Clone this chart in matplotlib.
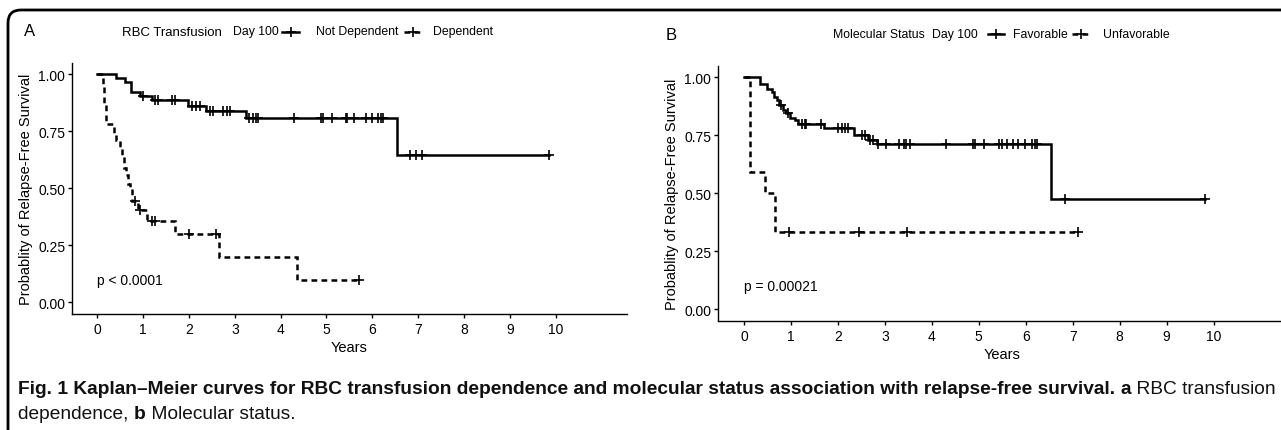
import numpy as np
import matplotlib
matplotlib.use("Agg")
import matplotlib.pyplot as plt
from matplotlib.lines import Line2D
from matplotlib.patches import FancyBboxPatch
from matplotlib.transforms import IdentityTransform

# ---------------- data ----------------
years_ticks = list(range(0, 11))
surv_ticks = [0.0, 0.25, 0.50, 0.75, 1.00]
surv_tick_labels = ["0.00", "0.25", "0.50", "0.75", "1.00"]

# Panel A: RBC transfusion at day 100
a_notdep_event_t = [0.40, 0.60, 0.73, 0.93, 1.18, 1.98, 2.36, 3.25, 6.55]
a_notdep_surv = [0.981, 0.964, 0.923, 0.905, 0.888, 0.862, 0.840, 0.806, 0.645]
a_notdep_censor_t = [1.00, 1.26, 1.33, 1.62, 1.69, 2.06, 2.15, 2.24, 2.46, 2.52,
                     2.75, 2.82, 2.89, 3.31, 3.40, 3.46, 3.51, 4.30, 4.87, 4.93,
                     5.11, 5.43, 5.45, 5.61, 5.86, 6.00, 6.12, 6.20, 6.24, 6.82,
                     6.95, 7.08, 9.86]

a_dep_event_t = [0.11, 0.14, 0.18, 0.35, 0.40, 0.49, 0.53, 0.58, 0.62, 0.66,
                 0.70, 0.75, 0.88, 1.09, 1.69, 2.66, 4.35]
a_dep_surv = [0.955, 0.864, 0.780, 0.740, 0.710, 0.670, 0.635, 0.590, 0.560,
              0.520, 0.500, 0.446, 0.406, 0.357, 0.300, 0.200, 0.100]
a_dep_censor_t = [0.82, 0.93, 1.18, 1.26, 2.00, 2.59, 5.71]

# Panel B: molecular status at day 100
b_fav_event_t = [0.34, 0.48, 0.59, 0.64, 0.70, 0.75, 0.82, 0.89, 0.98, 1.09,
                 1.16, 1.70, 2.34, 2.65, 2.83, 6.54]
b_fav_surv = [0.972, 0.950, 0.936, 0.914, 0.900, 0.881, 0.857, 0.844, 0.826,
              0.815, 0.800, 0.780, 0.752, 0.730, 0.710, 0.474]
b_fav_censor_t = [0.79, 0.94, 1.23, 1.30, 1.33, 1.65, 2.01, 2.08, 2.15, 2.22,
                  2.51, 2.58, 2.68, 2.75, 2.86, 3.03, 3.31, 3.40, 3.46, 3.54,
                  4.30, 4.87, 4.92, 5.12, 5.44, 5.49, 5.60, 5.72, 5.84, 5.99,
                  6.13, 6.20, 6.24, 6.83, 9.81]

b_unfav_event_t = [0.13, 0.45, 0.66]
b_unfav_surv = [0.590, 0.500, 0.333]
b_unfav_censor_t = [0.96, 2.44, 3.48, 7.11]

pvals = ["p < 0.0001", "p = 0.00021"]
panel_letters = ["A", "B"]
legend_titles = ["RBC Transfusion", "Molecular Status"]
legend_sub = "Day 100"
legend_labels = [["Not Dependent", "Dependent"], ["Favorable", "Unfavorable"]]

# ---------------- styling ----------------
W, H, DPI = 1281, 431, 100
plt.rcParams['font.family'] = ['Liberation Sans', 'DejaVu Sans']
LW = 1.8
DASH = (0, (2.3, 1.7))
MS, MEW = 7, 1.2

fig = plt.figure(figsize=(W / DPI, H / DPI), dpi=DPI)


def px_axes(left, top, right, bottom):
    return fig.add_axes([left / W, 1 - bottom / H, (right - left) / W, (bottom - top) / H])


def km_draw(ax, ev_t, ev_s, cens_t, ls):
    ev_t = np.asarray(ev_t)
    ev_s = np.asarray(ev_s)
    cens_t = np.asarray(cens_t)
    end = max(cens_t.max(), ev_t.max())
    t = np.r_[0.0, ev_t, end]
    s = np.r_[1.0, ev_s, ev_s[-1]]
    ax.step(t, s, where='post', color='black', lw=LW, linestyle=ls,
            solid_joinstyle='miter', dash_joinstyle='miter')
    levels = np.r_[1.0, ev_s][np.searchsorted(ev_t, cens_t, side='right')]
    ax.plot(cens_t, levels, linestyle='none', marker='+', ms=MS, mew=MEW, color='black')


def style_axes(ax, ylabel_pad):
    ax.set_xlim(-0.55, 11.55)
    ax.set_ylim(-0.05, 1.05)
    for side in ['top', 'right']:
        ax.spines[side].set_visible(False)
    for side in ['left', 'bottom']:
        ax.spines[side].set_linewidth(1.0)
    ax.set_xticks(years_ticks)
    ax.set_yticks(surv_ticks)
    ax.set_yticklabels(surv_tick_labels)
    ax.tick_params(axis='both', length=3, width=1.0, labelsize=10, colors='black')
    ax.tick_params(axis='x', pad=3)
    ax.tick_params(axis='y', pad=2)
    ax.set_xlabel("Years", fontsize=10.5, labelpad=3)
    ax.set_ylabel("Probablity of Relapse-Free Survival", fontsize=10.5, labelpad=ylabel_pad)


axA = px_axes(72.3, 63.6, 626.5, 314.9)
axB = px_axes(718.2, 66.7, 1286.3, 321.6)

km_draw(axA, a_notdep_event_t, a_notdep_surv, a_notdep_censor_t, '-')
km_draw(axA, a_dep_event_t, a_dep_surv, a_dep_censor_t, DASH)
km_draw(axB, b_fav_event_t, b_fav_surv, b_fav_censor_t, '-')
km_draw(axB, b_unfav_event_t, b_unfav_surv, b_unfav_censor_t, DASH)

for ax, p in zip([axA, axB], pvals):
    style_axes(ax, 4)
    ax.text(0, 0.1, p, fontsize=10, ha='left', va='center')


def ftxt(x, y, s, **kw):
    fig.text(x / W, 1 - y / H, s, **kw)


def key(x0, x1, y, ls):
    fig.add_artist(Line2D([x0 / W, x1 / W], [1 - y / H] * 2, transform=fig.transFigure,
                          color='black', lw=LW, linestyle=ls))
    xm = (x0 + x1) / 2
    fig.add_artist(Line2D([xm / W], [1 - y / H], transform=fig.transFigure, color='black',
                          marker='+', ms=MS, mew=MEW, linestyle='none'))


# panel letters
ftxt(24, 32, panel_letters[0], fontsize=12, ha='left', va='center')
ftxt(666, 35, panel_letters[1], fontsize=12, ha='left', va='center')

# legends
yA = 32.5
ftxt(122.4, yA, legend_titles[0], fontsize=9.5, ha='left', va='center')
ftxt(232.7, yA, legend_sub, fontsize=8.8, ha='left', va='center')
key(282, 299, yA, '-')
ftxt(315.5, yA, legend_labels[0][0], fontsize=8.8, ha='left', va='center')
key(404, 422, yA, DASH)
ftxt(432.7, yA, legend_labels[0][1], fontsize=8.8, ha='left', va='center')

yB = 35
ftxt(833, yB, legend_titles[1], fontsize=8.8, ha='left', va='center')
ftxt(931.8, yB, legend_sub, fontsize=8.8, ha='left', va='center')
key(988, 1004, yB, '-')
ftxt(1013.5, yB, legend_labels[1][0], fontsize=8.8, ha='left', va='center')
key(1072, 1090, yB, DASH)
ftxt(1103, yB, legend_labels[1][1], fontsize=8.8, ha='left', va='center')

# frame
frame = FancyBboxPatch((8, -30), 1320, 431 - 11 + 30,
                       boxstyle="round,pad=0,rounding_size=13",
                       transform=IdentityTransform(), fill=False,
                       edgecolor='black', lw=2.0)
fig.add_artist(frame)

# caption
cap_font = ['Liberation Sans Narrow', 'Liberation Sans', 'DejaVu Sans']
line1 = [("Fig. 1 Kaplan\u2013Meier curves for RBC transfusion dependence and molecular status "
          "association with relapse-free survival.", 'bold'),
         (" ", 'normal'), ("a", 'bold'), (" RBC transfusion", 'normal')]
line2 = [("dependence, ", 'normal'), ("b", 'bold'), (" Molecular status.", 'normal')]

renderer = fig.canvas.get_renderer()


def draw_line(pieces, x0, y, size):
    x = x0
    arts = []
    for s, w in pieces:
        t = fig.text(x / W, 1 - y / H, s, fontsize=size, fontweight=w, family=cap_font,
                     ha='left', va='center', color='#111111')
        bb = t.get_window_extent(renderer=renderer)
        x += bb.width
        arts.append(t)
    return x - x0, arts


size = 12
width, arts = draw_line(line1, 18, 390, size)
for a in arts:
    a.remove()
size = size * 1256 / width
draw_line(line1, 18, 390, size)
draw_line(line2, 18, 415, size)

fig.savefig("out.png", dpi=DPI)
